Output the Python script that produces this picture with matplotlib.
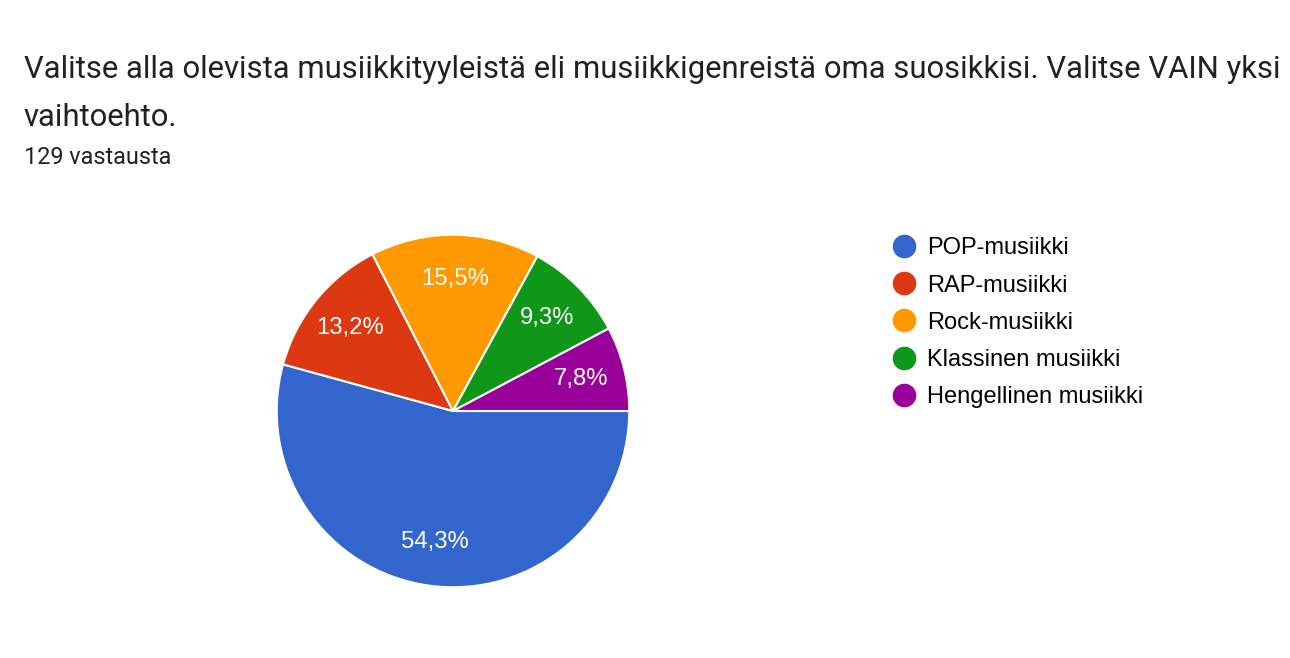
import matplotlib.pyplot as plt
from matplotlib.lines import Line2D

labels = ["POP-musiikki", "RAP-musiikki", "Rock-musiikki", "Klassinen musiikki", "Hengellinen musiikki"]
counts = [70, 17, 20, 12, 10]
colors = ["#3366cc", "#dc3912", "#ff9900", "#109618", "#990099"]
total = 129

W, H = 1290, 658
fig = plt.figure(figsize=(W / 100, H / 100), dpi=100)

# title + subtitle
fig.text(24 / W, 1 - 70 / H, "Valitse alla olevista musiikkityyleistä eli musiikkigenreistä oma suosikkisi. Valitse VAIN yksi",
         family="Roboto", fontsize=22.3, color="#202124", va="center")
fig.text(24 / W, 1 - 117 / H, "vaihtoehto.", family="Roboto", fontsize=22.3, color="#202124", va="center")
fig.text(24 / W, 1 - 158 / H, f"{total} vastausta", family="Roboto", fontsize=16.8, color="#202124", va="center")

# pie
cx, cy, r = 453, 411, 178
ax = fig.add_axes([(cx - r) / W, 1 - (cy + r) / H, 2 * r / W, 2 * r / H])
wedges, _, autotexts = ax.pie(
    counts, colors=colors, startangle=0, counterclock=False,
    autopct=lambda p: f"{p:.1f}".replace(".", ",") + "%", pctdistance=0.75,
    wedgeprops=dict(edgecolor="white", linewidth=1.5),
    textprops=dict(color="white", fontsize=17.2, family="Liberation Sans"),
)
ax.set_xlim(-1.01, 1.01)
ax.set_ylim(-1.01, 1.01)
ax.set_aspect("equal")

# legend
handles = [Line2D([], [], marker="o", ls="", color=c, markersize=16) for c in colors]
fig.legend(handles, labels, loc="upper left", bbox_to_anchor=(889 / W, 1 - 237.5 / H),
           frameon=False, prop=dict(family="Liberation Sans", size=17),
           handletextpad=0.34, labelspacing=0.64, handlelength=1.27, borderpad=0, borderaxespad=0)

fig.savefig("out.png", dpi=100, facecolor="white")
